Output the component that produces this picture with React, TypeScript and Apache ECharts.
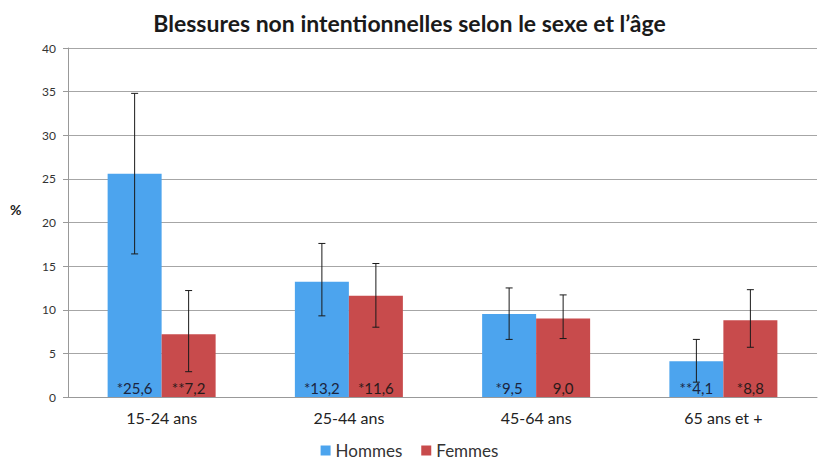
import React, { useEffect, useRef } from "react";
import * as echarts from "echarts";

const categories = ["15-24 ans", "25-44 ans", "45-64 ans", "65 ans et +"];
const hommes = [25.6, 13.2, 9.5, 4.1];
const femmes = [7.2, 11.6, 9.0, 8.8];
const hommesLabels = ["*25,6", "*13,2", "*9,5", "**4,1"];
const femmesLabels = ["**7,2", "*11,6", "9,0", "*8,8"];
const hommesLow = [16.4, 9.3, 6.6, 1.7];
const hommesHigh = [34.8, 17.6, 12.5, 6.6];
const femmesLow = [2.9, 8.0, 6.7, 5.7];
const femmesHigh = [12.2, 15.3, 11.7, 12.3];

const BLUE = "#4ca4ee";
const RED = "#c84b4c";
const FONT = "Lato, 'Open Sans', sans-serif";
const BAR_W = 54;

function errorSeries(low: number[], high: number[], side: number) {
  return {
    type: "custom",
    silent: true,
    z: 10,
    data: low.map((l, i) => [i, l, high[i]]),
    renderItem: (params: any, api: any) => {
      const idx = api.value(0);
      const lo = api.coord([idx, api.value(1)]);
      const hi = api.coord([idx, api.value(2)]);
      const x = lo[0] + side * (BAR_W / 2);
      const cap = 3.5;
      const st = { stroke: "#1a1a1a", lineWidth: 1 };
      return {
        type: "group",
        children: [
          { type: "line", shape: { x1: x, y1: lo[1], x2: x, y2: hi[1] }, style: st },
          { type: "line", shape: { x1: x - cap, y1: hi[1], x2: x + cap, y2: hi[1] }, style: st },
          { type: "line", shape: { x1: x - cap, y1: lo[1], x2: x + cap, y2: lo[1] }, style: st },
        ],
      };
    },
  };
}

export default function App() {
  const ref = useRef<HTMLDivElement>(null);
  useEffect(() => {
    const chart = echarts.init(ref.current!, null, { renderer: "svg" });
    chart.setOption({
      animation: false,
      backgroundColor: "#ffffff",
      textStyle: { fontFamily: FONT },
      title: {
        text: "Blessures non intentionnelles selon le sexe et l’âge",
        left: "center",
        top: 6,
        textStyle: { fontFamily: FONT, fontSize: 23, fontWeight: "bold", color: "#1a1a1a" },
      },
      legend: {
        bottom: 0,
        left: "center",
        icon: "rect",
        itemWidth: 10,
        itemHeight: 10,
        itemGap: 19,
        textStyle: { fontFamily: FONT, fontSize: 17, color: "#333" },
        data: ["Hommes", "Femmes"],
      },
      graphic: [
        {
          type: "text",
          left: 10,
          top: 202,
          style: { text: "%", font: `bold 14px ${FONT}`, fill: "#222" },
        },
      ],
      grid: { left: 68, right: 2, top: 48, bottom: 67 },
      xAxis: {
        type: "category",
        data: categories,
        axisLine: { lineStyle: { color: "#999" } },
        axisTick: { show: false },
        axisLabel: { fontFamily: FONT, fontSize: 16, color: "#222", margin: 12 },
      },
      yAxis: {
        type: "value",
        min: 0,
        max: 40,
        interval: 5,
        axisLine: { show: true, lineStyle: { color: "#999" } },
        axisTick: { show: true, length: 5, lineStyle: { color: "#999" } },
        axisLabel: { fontFamily: FONT, fontSize: 12, color: "#333", margin: 12 },
        splitLine: { lineStyle: { color: "#a6a6a6" } },
      },
      series: [
        {
          name: "Hommes",
          type: "bar",
          data: hommes,
          barWidth: BAR_W,
          barGap: "0%",
          itemStyle: { color: BLUE },
          label: {
            show: true,
            position: "insideBottom",
            distance: 2,
            fontFamily: FONT,
            fontSize: 15,
            color: "#1b2540",
            formatter: (p: any) => hommesLabels[p.dataIndex],
          },
        },
        {
          name: "Femmes",
          type: "bar",
          data: femmes,
          barWidth: BAR_W,
          barGap: "0%",
          itemStyle: { color: RED },
          label: {
            show: true,
            position: "insideBottom",
            distance: 2,
            fontFamily: FONT,
            fontSize: 15,
            color: "#2a1a1a",
            formatter: (p: any) => femmesLabels[p.dataIndex],
          },
        },
        errorSeries(hommesLow, hommesHigh, -1),
        errorSeries(femmesLow, femmesHigh, 1),
      ],
    });
    return () => chart.dispose();
  }, []);
  return (
    <div
      ref={ref}
      style={{ position: "fixed", left: 0, top: 0, width: 819, height: 464 }}
    />
  );
}
